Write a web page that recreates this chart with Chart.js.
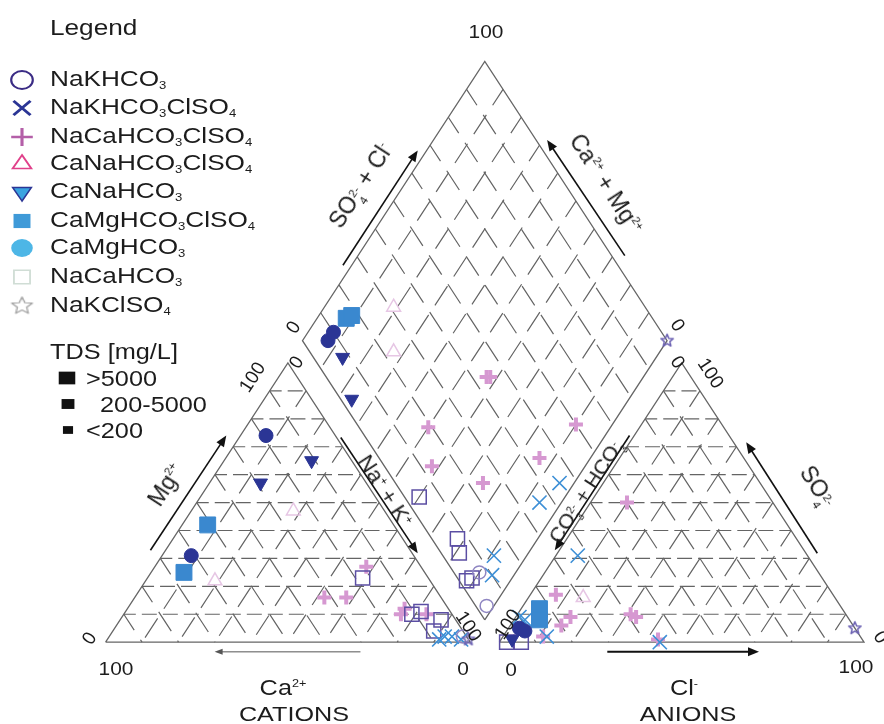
<!DOCTYPE html>
<html>
<head>
<meta charset="utf-8">
<title>Piper diagram</title>
<script src="https://cdn.jsdelivr.net/npm/chart.js@4.4.1/dist/chart.umd.min.js"></script>
<style>
html,body{margin:0;padding:0;background:#ffffff;}
#wrap{position:relative;width:884px;height:724px;overflow:hidden;font-family:"Liberation Sans",Arial,Helvetica,sans-serif;color:#1c1c1c;}
#chart{position:absolute;left:0;top:0;}
.lbl{position:absolute;white-space:nowrap;line-height:1;}
.lbl sub{font-size:0.5em;position:relative;top:0.3em;vertical-align:baseline;}
.lbl sup{font-size:0.5em;position:relative;top:-0.75em;vertical-align:baseline;}
.st{display:inline-flex;flex-direction:column;font-size:0.5em;line-height:1.15;position:relative;top:-0.55em;vertical-align:baseline;margin-left:0.05em;}
</style>
</head>
<body>
<div id="wrap"><canvas id="chart" width="884" height="724"></canvas></div>
<script>
// ---------------- DATA ----------------
const CATEGORIES = ['NaKHCO3','NaKHCO3ClSO4','NaCaHCO3ClSO4','CaNaHCO3ClSO4','CaNaHCO3','CaMgHCO3ClSO4','CaMgHCO3','NaCaHCO3','NaKClSO4'];
const TDS_CLASSES = ['<200','200-5000','>5000'];   // class index 0,1,2
const TICK_LOW = '0', TICK_HIGH = '100';

// Cation triangle: [Ca %, Mg %, TDS class]   (Na+K = 100 - Ca - Mg)
const CAT_NaKHCO3       = [[1, 2, 1]];
const CAT_NaKHCO3ClSO4  = [[8, 1, 1], [4, 2, 1], [2, 1, 1], [6, 2, 1]];
const CAT_NaCaHCO3ClSO4 = [[15, 27, 1], [32, 16, 1], [26, 16, 1], [14, 10, 1], [12, 12, 1], [7, 10, 1]];
const CAT_CaNaHCO3ClSO4 = [[25, 47, 1], [59, 22, 1]];
const CAT_CaNaHCO3      = [[11, 65, 1], [29, 57, 1]];
const CAT_CaMgHCO3ClSO4 = [[51, 42, 2], [66, 25, 2]];
const CAT_CaMgHCO3      = [[19, 74, 1], [61, 31, 1]];
const CAT_NaCaHCO3      = [[18, 23, 1], [11, 10, 1], [8, 11, 1], [4, 8, 1], [8, 4, 1]];
const CAT_NaKClSO4      = [[0, 1, 1]];

// Anion triangle: [Cl %, SO4 %, TDS class]   (CO3+HCO3 = 100 - Cl - SO4)
const AN_NaKHCO3        = [];
const AN_NaKHCO3ClSO4   = [[6, 31, 1], [44, 0, 1], [1, 9, 1], [3, 8, 1], [12, 2, 1]];
const AN_NaCaHCO3ClSO4  = [[10, 50, 1], [7, 17, 1], [33, 9, 1], [31, 10, 1], [15, 9, 1], [14, 6, 1], [11, 2, 1], [43, 1, 1]];
const AN_CaNaHCO3ClSO4  = [[15, 16, 1]];
const AN_CaNaHCO3       = [[3, 1, 1]];
const AN_CaMgHCO3ClSO4  = [[5, 12, 2], [7, 8, 2]];
const AN_CaMgHCO3       = [[3, 5, 1], [5, 4, 1]];
const AN_NaCaHCO3       = [[2, 0, 1], [6, 0, 1]];
const AN_NaKClSO4       = [[95, 5, 1]];

// Diamond: [SO4+Cl %, Ca+Mg %, TDS class]
const DM_NaKHCO3        = [[7, 10, 1], [3, 2, 1]];
const DM_NaKHCO3ClSO4   = [[45, 4, 1], [36, 6, 1], [14, 9, 1], [10, 6, 1]];
const DM_NaCaHCO3ClSO4  = [[44, 43, 1], [45, 42, 1], [19, 50, 1], [13, 42, 1], [24, 25, 1], [44, 14, 1], [60, 10, 1]];
const DM_CaNaHCO3ClSO4  = [[31, 81, 1], [23, 73, 1]];
const DM_CaNaHCO3       = [[8, 86, 1], [3, 76, 1]];
const DM_CaMgHCO3ClSO4  = [[16, 92, 2], [18, 91, 2]];
const DM_CaMgHCO3       = [[7, 93, 1], [10, 93, 1]];
const DM_NaCaHCO3       = [[4, 40, 1], [7, 22, 1], [5, 19, 1], [2, 12, 1], [4, 11, 1]];
const DM_NaKClSO4       = [[100, 0, 1]];

const CATION = [CAT_NaKHCO3, CAT_NaKHCO3ClSO4, CAT_NaCaHCO3ClSO4, CAT_CaNaHCO3ClSO4, CAT_CaNaHCO3, CAT_CaMgHCO3ClSO4, CAT_CaMgHCO3, CAT_NaCaHCO3, CAT_NaKClSO4];
const ANION  = [AN_NaKHCO3, AN_NaKHCO3ClSO4, AN_NaCaHCO3ClSO4, AN_CaNaHCO3ClSO4, AN_CaNaHCO3, AN_CaMgHCO3ClSO4, AN_CaMgHCO3, AN_NaCaHCO3, AN_NaKClSO4];
const DIAMOND= [DM_NaKHCO3, DM_NaKHCO3ClSO4, DM_NaCaHCO3ClSO4, DM_CaNaHCO3ClSO4, DM_CaNaHCO3, DM_CaMgHCO3ClSO4, DM_CaMgHCO3, DM_NaCaHCO3, DM_NaKClSO4];

// ---------------- GEOMETRY (diagram units: triangle side 100) ----------------
const H = 86.6, GAP = 8;
const XMIN = -25.6, XMAX = 210.13, YMIN = -21.58, YMAX = 195.39;
function catXY(ca, mg){ const na = 100 - ca - mg; return {x: na + mg/2, y: mg*H/100}; }
function anXY(cl, so4){ return {x: 100 + GAP + cl + so4/2, y: so4*H/100}; }
function dmXY(a, c){ return {x: 100 + GAP/2 + 50*(a - c)/100, y: GAP*H/100 + H*(a + c)/100}; }

// ---------------- STYLES ----------------
const NAVY = '#2b3595';
function starImg(color, r, lw){
  const s = Math.ceil(2*r + lw*2 + 2);
  const c = document.createElement('canvas'); c.width = c.height = s;
  const g = c.getContext('2d'); g.strokeStyle = color; g.lineWidth = lw; g.lineJoin='round';
  g.beginPath();
  for (let i = 0; i < 10; i++){
    const ang = -Math.PI/2 + i*Math.PI/5, rr = (i % 2) ? r*0.45 : r;
    const px = s/2 + rr*Math.cos(ang), py = s/2 + rr*Math.sin(ang);
    if (i) g.lineTo(px, py); else g.moveTo(px, py);
  }
  g.closePath(); g.stroke();
  return c;
}
const PLOT_STYLE = [
  {ps:'circle',   r:6.5, bg:'rgba(0,0,0,0)', bc:'#8f86c2', bw:1.5, rot:0,   order:16},
  {ps:'crossRot', r:10,  bg:'rgba(0,0,0,0)', bc:'#3d8fd6', bw:1.6, rot:0,   order:18},
  {ps:'cross',    r:7,   bg:'rgba(0,0,0,0)', bc:'#d698d1', bw:4,   rot:0,   order:20},
  {ps:'triangle', r:8,   bg:'rgba(0,0,0,0)', bc:'#e6c6e4', bw:1.5, rot:0,   order:17},
  {ps:'triangle', r:8,   bg:NAVY,            bc:NAVY,      bw:1,   rot:180, order:13},
  {ps:'rect',     r:9,   bg:'#3a88cf',       bc:'#3a88cf', bw:1,   rot:0,   order:15},
  {ps:'circle',   r:7,   bg:NAVY,            bc:NAVY,      bw:1,   rot:0,   order:14},
  {ps:'rect',     r:10,  bg:'rgba(0,0,0,0)', bc:'#5b4ea3', bw:1.5, rot:0,   order:19},
  {ps:starImg('#6c62b3', 6.5, 1.5), r:6, bg:'rgba(0,0,0,0)', bc:'#6c62b3', bw:1.5, rot:0, order:12}
];
const LEGEND_STYLE = [
  {ps:'circle',   r:9,   bg:'rgba(0,0,0,0)', bc:'#3b2c85', bw:1.8, rot:0},
  {ps:'crossRot', r:10,  bg:'rgba(0,0,0,0)', bc:'#2b3595', bw:2.6, rot:0},
  {ps:'cross',    r:9,   bg:'rgba(0,0,0,0)', bc:'#b45fa8', bw:2.6, rot:0},
  {ps:'triangle', r:9,   bg:'rgba(0,0,0,0)', bc:'#e0408a', bw:1.6, rot:0},
  {ps:'triangle', r:9,   bg:'#3aa3e0',       bc:'#2b3595', bw:1.4, rot:180},
  {ps:'rect',     r:10,  bg:'#3f9ad8',       bc:'#3f9ad8', bw:0,   rot:0},
  {ps:'circle',   r:9,   bg:'#4db6e6',       bc:'#4db6e6', bw:0,   rot:0},
  {ps:'rect',     r:9.5, bg:'rgba(0,0,0,0)', bc:'#d0ddd5', bw:1.5, rot:0},
  {ps:starImg('#a3a3a3', 9, 1.2), r:9, bg:'rgba(0,0,0,0)', bc:'#a3a3a3', bw:1, rot:0}
];
const TDS_FACTOR = [0.7, 1, 1.25];
const LEGEND_ROW_Y = [80, 108, 137, 164, 192, 221, 248, 277, 306];
const TDS_ROW_Y = [430, 404, 378];
const TDS_LEG_R = [5.5, 7, 9];

// ---------------- DATASETS ----------------
const GRID_COLOR = '#646464', EDGE_COLOR = '#666666';
const DASH_FLAT = [15, 6], DASH_SLANT = [23, 11.45];
const datasets = [];
function line(pts, dash, color, width, order, offset){
  datasets.push({data: pts, showLine: true, borderColor: color, borderWidth: width, borderDash: dash,
    borderDashOffset: offset || 0,
    pointRadius: 0, pointHoverRadius: 0, fill: false, tension: 0, order: order});
}
// slanted grid lines are traced from their upper end downwards
for (const off of [0, 100 + GAP]) {
  for (let k = 10; k <= 90; k += 10) {
    const f = k/100;
    line([{x: off + 50*f, y: H*f}, {x: off + 100 - 50*f, y: H*f}], DASH_FLAT, GRID_COLOR, 1.2, 60, 3);
    line([{x: off + 50 + 50*f, y: H*(1-f)}, {x: off + k, y: 0}], DASH_SLANT, GRID_COLOR, 1.2, 60, 4);
    line([{x: off + 50*(1-f), y: H*(1-f)}, {x: off + 100 - k, y: 0}], DASH_SLANT, GRID_COLOR, 1.2, 60, 4);
  }
  line([{x: off, y: 0}, {x: off + 100, y: 0}, {x: off + 50, y: H}, {x: off, y: 0}], [], EDGE_COLOR, 1.3, 55);
}
for (let k = 10; k <= 90; k += 10) {
  line([dmXY(k, 100), dmXY(k, 0)], DASH_SLANT, GRID_COLOR, 1.2, 60, 4);
  line([dmXY(100, k), dmXY(0, k)], DASH_SLANT, GRID_COLOR, 1.2, 60, 4);
}
line([dmXY(0,0), dmXY(100,0), dmXY(100,100), dmXY(0,100), dmXY(0,0)], [], EDGE_COLOR, 1.3, 55);

CATEGORIES.forEach((name, i) => {
  const st = PLOT_STYLE[i];
  const pts = [
    ...CATION[i].map(p => ({...catXY(p[0], p[1]), t: p[2]})),
    ...DIAMOND[i].map(p => ({...dmXY(p[0], p[1]), t: p[2]})),
    ...ANION[i].map(p => ({...anXY(p[0], p[1]), t: p[2]}))
  ];
  datasets.push({
    label: name, data: pts, showLine: false, order: st.order,
    pointStyle: st.ps, pointRotation: st.rot,
    pointRadius: ctx => st.r * TDS_FACTOR[ctx.raw ? ctx.raw.t : 1],
    pointHoverRadius: ctx => st.r * TDS_FACTOR[ctx.raw ? ctx.raw.t : 1],
    pointBackgroundColor: st.bg, pointBorderColor: st.bc, pointBorderWidth: st.bw,
    pointHoverBorderWidth: st.bw
  });
});

// ---------------- ARROWS (diagram units) ----------------
const ARROWS = [
  {from:[12.3, 28.5],  to:[33.1, 64.1],  width:1.6},            // Mg
  {from:[69.9, -3.0],  to:[29.9, -3.0],  width:1, color:'#555', head:8, hw:3}, // Ca
  {from:[64.5, 63.5],  to:[85.6, 27.6],  width:1.6},            // Na+K
  {from:[137.6, -3.0], to:[179.2, -3.0], width:2},              // Cl
  {from:[195.2, 27.6], to:[175.7, 62.0], width:1.6},            // SO4
  {from:[143.7, 64.1], to:[123.2, 28.5], width:1.6},            // CO3+HCO3
  {from:[65.1, 116.9], to:[85.6, 152.5], width:1.6},            // SO4+Cl
  {from:[142.4, 119.9],to:[121.1, 155.8],width:1.6}             // Ca+Mg
];
const arrowPlugin = {
  id: 'arrows',
  afterDatasetsDraw(chart){
    const ctx = chart.ctx, xs = chart.scales.x, ys = chart.scales.y;
    ARROWS.forEach(a => {
      const x1 = xs.getPixelForValue(a.from[0]), y1 = ys.getPixelForValue(a.from[1]);
      const x2 = xs.getPixelForValue(a.to[0]),   y2 = ys.getPixelForValue(a.to[1]);
      const ang = Math.atan2(y2 - y1, x2 - x1), hl = a.head || 11, hw = a.hw || 4.5;
      const col = a.color || '#111';
      ctx.save();
      ctx.strokeStyle = col; ctx.fillStyle = col; ctx.lineWidth = a.width;
      ctx.beginPath(); ctx.moveTo(x1, y1);
      ctx.lineTo(x2 - Math.cos(ang)*hl*0.8, y2 - Math.sin(ang)*hl*0.8); ctx.stroke();
      ctx.beginPath(); ctx.moveTo(x2, y2);
      ctx.lineTo(x2 - Math.cos(ang)*hl - Math.sin(ang)*hw, y2 - Math.sin(ang)*hl + Math.cos(ang)*hw);
      ctx.lineTo(x2 - Math.cos(ang)*hl + Math.sin(ang)*hw, y2 - Math.sin(ang)*hl - Math.cos(ang)*hw);
      ctx.closePath(); ctx.fill();
      ctx.restore();
    });
  }
};
const legendPlugin = {
  id: 'legendSymbols',
  afterDraw(chart){
    const ctx = chart.ctx;
    LEGEND_STYLE.forEach((st, i) => {
      ctx.save();
      ctx.translate(22, LEGEND_ROW_Y[i]); ctx.scale(1.2, 1);
      ctx.fillStyle = st.bg; ctx.strokeStyle = st.bc; ctx.lineWidth = st.bw;
      Chart.helpers.drawPoint(ctx, {pointStyle: st.ps, radius: st.r, rotation: st.rot, borderWidth: st.bw}, 0, 0);
      ctx.restore();
    });
    TDS_CLASSES.forEach((c, i) => {
      ctx.save();
      ctx.translate(i === 2 ? 67 : 68, TDS_ROW_Y[i]); ctx.scale(1.3, 1);
      ctx.fillStyle = '#111'; ctx.strokeStyle = '#111';
      Chart.helpers.drawPoint(ctx, {pointStyle: 'rect', radius: TDS_LEG_R[i], rotation: 0, borderWidth: 0}, 0, 0);
      ctx.restore();
    });
  }
};

new Chart(document.getElementById('chart'), {
  type: 'scatter',
  data: {datasets},
  options: {
    responsive: false, devicePixelRatio: 1, animation: false, events: [],
    layout: {padding: 0},
    plugins: {legend: {display: false}, tooltip: {enabled: false}},
    scales: {
      x: {type: 'linear', min: XMIN, max: XMAX, display: false},
      y: {type: 'linear', min: YMIN, max: YMAX, display: false}
    }
  },
  plugins: [arrowPlugin, legendPlugin]
});

// ---------------- TEXT ----------------
const wrap = document.getElementById('wrap');
function chem(s){ return s.replace(/(\d)/g, '<sub>$1</sub>'); }
function stack(sup, sub){ return '<span class="st"><span>' + sup + '</span><span>' + sub + '</span></span>'; }
function addLabel(html, x, y, rot, size, sx, anchor){
  const d = document.createElement('div'); d.className = 'lbl'; d.innerHTML = html;
  d.style.fontSize = size + 'px'; d.style.left = x + 'px'; d.style.top = y + 'px';
  const left = anchor === 'left';
  d.style.transformOrigin = left ? '0 50%' : '50% 50%';
  d.style.transform = 'translate(' + (left ? '0' : '-50%') + ',-50%) rotate(' + rot + 'deg) scaleX(' + sx + ')';
  wrap.appendChild(d);
}
addLabel('Legend', 50, 28, 0, 22, 1.19, 'left');
CATEGORIES.forEach((c, i) => addLabel(chem(c), 50, LEGEND_ROW_Y[i] - 1, 0, 22, 1.19, 'left'));
addLabel('TDS [mg/L]', 50, 352, 0, 22, 1.15, 'left');
addLabel('&gt;' + TDS_CLASSES[2].slice(1), 86, 379, 0, 22, 1.15, 'left');
addLabel(TDS_CLASSES[1], 100, 405, 0, 22, 1.15, 'left');
addLabel('&lt;' + TDS_CLASSES[0].slice(1), 86, 431, 0, 22, 1.15, 'left');

// scale end labels
[[TICK_HIGH, 486, 31, 0], [TICK_LOW, 293, 327, -57], [TICK_LOW, 296, 362, -57], [TICK_HIGH, 252, 377, -57],
 [TICK_LOW, 89, 638, -57], [TICK_HIGH, 116, 668, 0], [TICK_LOW, 463, 668, 0], [TICK_HIGH, 469, 626, 57],
 [TICK_HIGH, 507, 624, -57], [TICK_LOW, 511, 669, 0], [TICK_LOW, 678, 325, 57], [TICK_LOW, 678, 362, 57],
 [TICK_HIGH, 711, 373, 57], [TICK_HIGH, 856, 666, 0], [TICK_LOW, 881, 637, 57]
].forEach(t => addLabel(t[0], t[1], t[2], t[3], 19, t[3] === 0 ? 1.1 : 1.0, 'center'));

// axis titles
addLabel('Ca<sup>2+</sup>', 283, 688, 0, 22, 1.15, 'center');
addLabel('CATIONS', 294, 713, 0, 21, 1.2, 'center');
addLabel('Cl<sup>-</sup>', 684, 688, 0, 22, 1.15, 'center');
addLabel('ANIONS', 688, 713, 0, 21, 1.2, 'center');
addLabel('Mg<sup>2+</sup>', 166, 485, -57, 23, 1, 'center');
addLabel('Na<sup>+</sup> + K<sup>+</sup>', 385, 491, 57, 22, 1, 'center');
addLabel('SO' + stack('2-', '4') + ' + Cl<sup>-</sup>', 366, 189, -57, 23, 1, 'center');
addLabel('Ca<sup>2+</sup> + Mg<sup>2+</sup>', 606, 184, 57, 23, 1, 'center');
addLabel('CO' + stack('2-', '3') + ' + HCO' + stack('-', '3'), 590, 494, -57, 21, 1, 'center');
addLabel('SO' + stack('2-', '4'), 812, 490, 57, 23, 1, 'center');
</script>
</body>
</html>
